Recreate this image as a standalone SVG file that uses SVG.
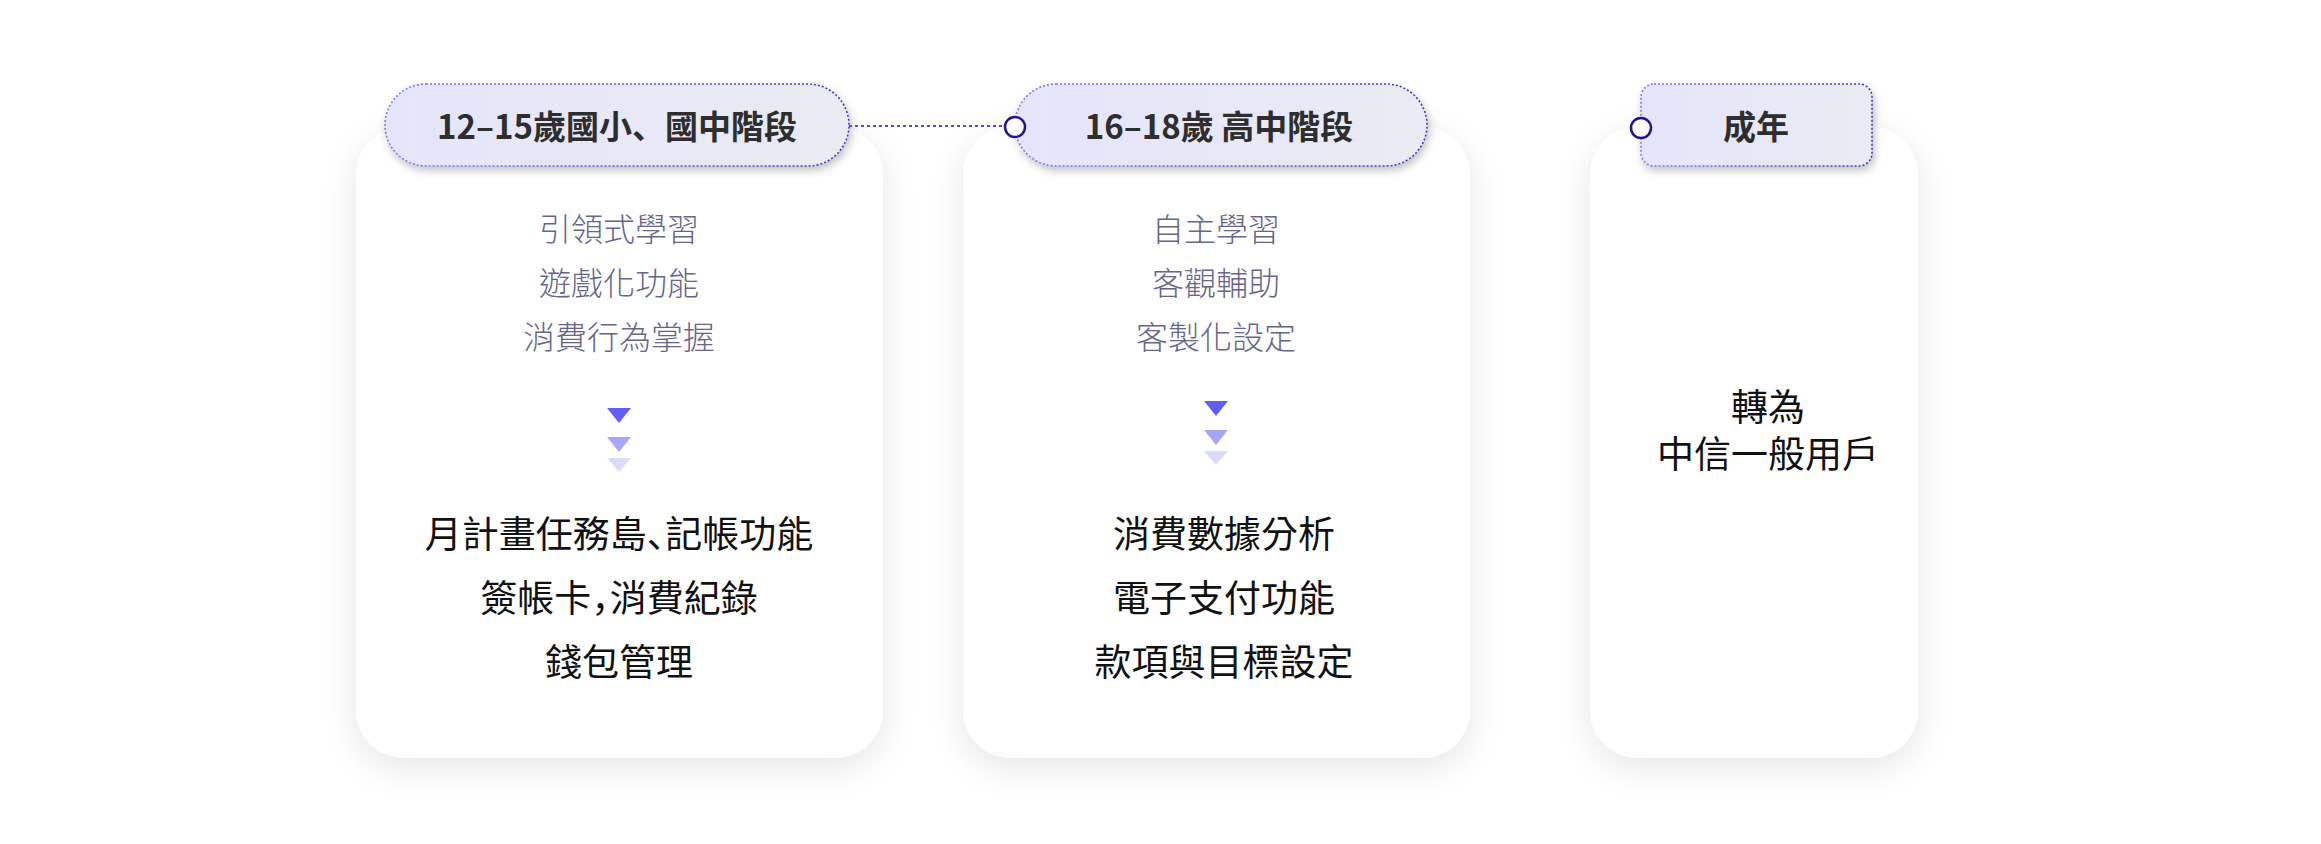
<svg xmlns="http://www.w3.org/2000/svg" width="2321" height="844" viewBox="0 0 2321 844">
<defs>
<filter id="cardShadow" x="-30%" y="-20%" width="160%" height="150%">
<feGaussianBlur in="SourceAlpha" stdDeviation="18"/>
<feOffset dx="0" dy="10" result="b"/>
<feComponentTransfer><feFuncA type="linear" slope="0.10"/></feComponentTransfer>
<feMerge><feMergeNode/><feMergeNode in="SourceGraphic"/></feMerge>
</filter>
<filter id="pillShadow" x="-20%" y="-30%" width="140%" height="180%">
<feGaussianBlur in="SourceAlpha" stdDeviation="4"/>
<feOffset dx="2" dy="4" result="b"/>
<feComponentTransfer><feFuncA type="linear" slope="0.25"/></feComponentTransfer>
<feMerge><feMergeNode/><feMergeNode in="SourceGraphic"/></feMerge>
</filter>
<linearGradient id="pillFill" x1="0" y1="0" x2="1" y2="0">
<stop offset="0" stop-color="#e5e5fc"/>
<stop offset="1" stop-color="#ebebf3"/>
</linearGradient>
<linearGradient id="pillStroke" x1="0" y1="0" x2="1" y2="0">
<stop offset="0" stop-color="#7b7bff"/>
<stop offset="1" stop-color="#3d3dcc"/>
</linearGradient>
<style>
.card{fill:#ffffff;filter:url(#cardShadow);}
.pill{fill:url(#pillFill);stroke:url(#pillStroke);stroke-width:1.6;stroke-dasharray:2 2;filter:url(#pillShadow);}
.title{font-family:"Noto Sans CJK TC","Noto Sans CJK SC",sans-serif;font-size:33px;font-weight:700;fill:#2e2e2e;text-anchor:middle;}
.sub{font-family:"Noto Sans CJK TC","Noto Sans CJK SC",sans-serif;font-size:32px;font-weight:300;fill:#67668a;text-anchor:middle;}
.main{font-family:"Noto Sans CJK TC","Noto Sans CJK SC",sans-serif;font-size:37px;font-weight:400;fill:#111111;text-anchor:middle;}
.tight{font-family:"Liberation Sans","Noto Sans CJK TC","Noto Sans CJK SC",sans-serif;}
.halt{font-feature-settings:"halt";}
.punct{font-family:"Noto Sans CJK SC","Noto Sans CJK TC",sans-serif;}
.t1{fill:#5f5ff6;}
.t2{fill:#a7a7f8;}
.t3{fill:#dbdbfb;}
.link{stroke:#4b4be6;stroke-width:2;stroke-dasharray:3 3;fill:none;}
.port{fill:#ffffff;stroke:#25148c;stroke-width:2.5;}
</style>
</defs>
<rect width="2321" height="844" fill="#ffffff"/>

<g id="node-stage1">
<rect class="card" x="356" y="127" width="527" height="631" rx="48"/>
<rect class="pill" x="385" y="84" width="464" height="82" rx="41"/>
<text class="title" x="617" y="139">12–15歲國小<tspan class="punct">、</tspan>國中階段</text>
<text class="sub" x="619" y="241">引領式學習</text>
<text class="sub" x="619" y="295">遊戲化功能</text>
<text class="sub" x="619" y="349">消費行為掌握</text>
<polygon class="t1" points="607,408 631,408 619,423"/>
<polygon class="t2" points="607,437 631,437 619,452"/>
<polygon class="t3" points="607,458 631,458 619,472"/>
<text class="main halt" x="619" y="548">月計畫任務島<tspan class="punct">、</tspan>記帳功能</text>
<text class="main halt" x="619" y="612">簽帳卡<tspan class="punct">，</tspan>消費紀錄</text>
<text class="main" x="619" y="676">錢包管理</text>
</g>

<g id="node-stage2">
<rect class="card" x="963" y="127" width="507" height="631" rx="48"/>
<rect class="pill" x="1015" y="84" width="412" height="82" rx="41"/>
<text class="title" x="1219" y="139">16–18歲 高中階段</text>
<text class="sub" x="1216" y="241">自主學習</text>
<text class="sub" x="1216" y="295">客觀輔助</text>
<text class="sub" x="1216" y="349">客製化設定</text>
<polygon class="t1" points="1204,401 1228,401 1216,416"/>
<polygon class="t2" points="1204,430 1228,430 1216,445"/>
<polygon class="t3" points="1204,451 1228,451 1216,465"/>
<text class="main" x="1224" y="548">消費數據分析</text>
<text class="main" x="1224" y="612">電子支付功能</text>
<text class="main" x="1224" y="676">款項與目標設定</text>
</g>

<g id="node-adult">
<rect class="card" x="1590" y="127" width="328" height="631" rx="48"/>
<rect class="pill" x="1641" y="84" width="231" height="82" rx="13"/>
<text class="title" x="1756" y="139">成年</text>
<text class="main tight" x="1768" y="421"><tspan x="1768" y="421">轉為</tspan><tspan x="1768" y="468">中信一般用戶</tspan></text>
</g>

<g id="connectors">
<line class="link" x1="849" y1="126" x2="1005" y2="126"/>
<circle class="port" cx="1015" cy="127" r="10"/>
<circle class="port" cx="1641" cy="128" r="10"/>
</g>
</svg>
